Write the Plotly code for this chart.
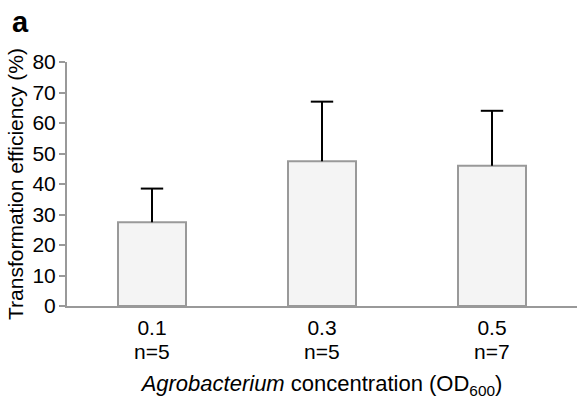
import plotly.graph_objects as go

categories = ["0.1", "0.3", "0.5"]
sample_sizes = ["n=5", "n=5", "n=7"]
efficiency = [27.5, 47.5, 46.0]
error_plus = [11.0, 19.5, 18.0]

FONT = "Arial, Liberation Sans, sans-serif"
GRAY = "#999999"

x_pos = list(range(len(categories)))
err_top = [v + e for v, e in zip(efficiency, error_plus)]

fig = go.Figure()
fig.add_trace(go.Bar(
    x=x_pos,
    y=efficiency,
    width=0.4,
    marker=dict(color="#f4f4f4", line=dict(color=GRAY, width=2)),
    error_y=dict(type="data", symmetric=False, array=error_plus,
                 arrayminus=[0] * len(error_plus),
                 color="black", thickness=2, width=0),
    showlegend=False,
    hoverinfo="skip",
))
# error-bar caps
fig.add_trace(go.Scatter(
    x=x_pos, y=err_top, mode="markers",
    marker=dict(symbol="line-ew", size=16, color="black",
                line=dict(color="black", width=2)),
    showlegend=False, hoverinfo="skip", cliponaxis=False,
))

for xi, n in zip(x_pos, sample_sizes):
    fig.add_annotation(x=xi, xref="x", y=0, yref="paper", text=n,
                       showarrow=False, yanchor="top", yshift=-32,
                       font=dict(family=FONT, size=21, color="black"))

fig.add_annotation(x=0, xref="paper", y=1, yref="paper", text="<b>a</b>",
                   showarrow=False, xanchor="left", yanchor="bottom",
                   xshift=-57, yshift=22,
                   font=dict(family=FONT, size=29, color="black"))

fig.update_layout(
    width=577, height=399,
    margin=dict(l=67, r=0, t=62, b=93),
    paper_bgcolor="white", plot_bgcolor="white",
    font=dict(family=FONT, size=21, color="black"),
)
fig.update_xaxes(
    range=[-0.5, 2.5],
    tickmode="array", tickvals=x_pos, ticktext=categories,
    showline=True, linecolor=GRAY, linewidth=2,
    ticks="", showgrid=False, zeroline=False,
    tickfont=dict(size=21), ticklabelstandoff=2,
    title=dict(text="<i>Agrobacterium</i> concentration (OD<sub>600</sub>)",
               font=dict(size=22), standoff=38),
    automargin=False,
)
fig.update_yaxes(
    range=[0, 80], dtick=10,
    showline=True, linecolor=GRAY, linewidth=2,
    ticks="outside", ticklen=6, tickwidth=2, tickcolor=GRAY,
    showgrid=False, zeroline=False,
    tickfont=dict(size=21), ticklabelstandoff=-1,
    title=dict(text="Transformation efficiency (%)", font=dict(size=21), standoff=3),
    automargin=False,
)

fig.write_html("out.html")
